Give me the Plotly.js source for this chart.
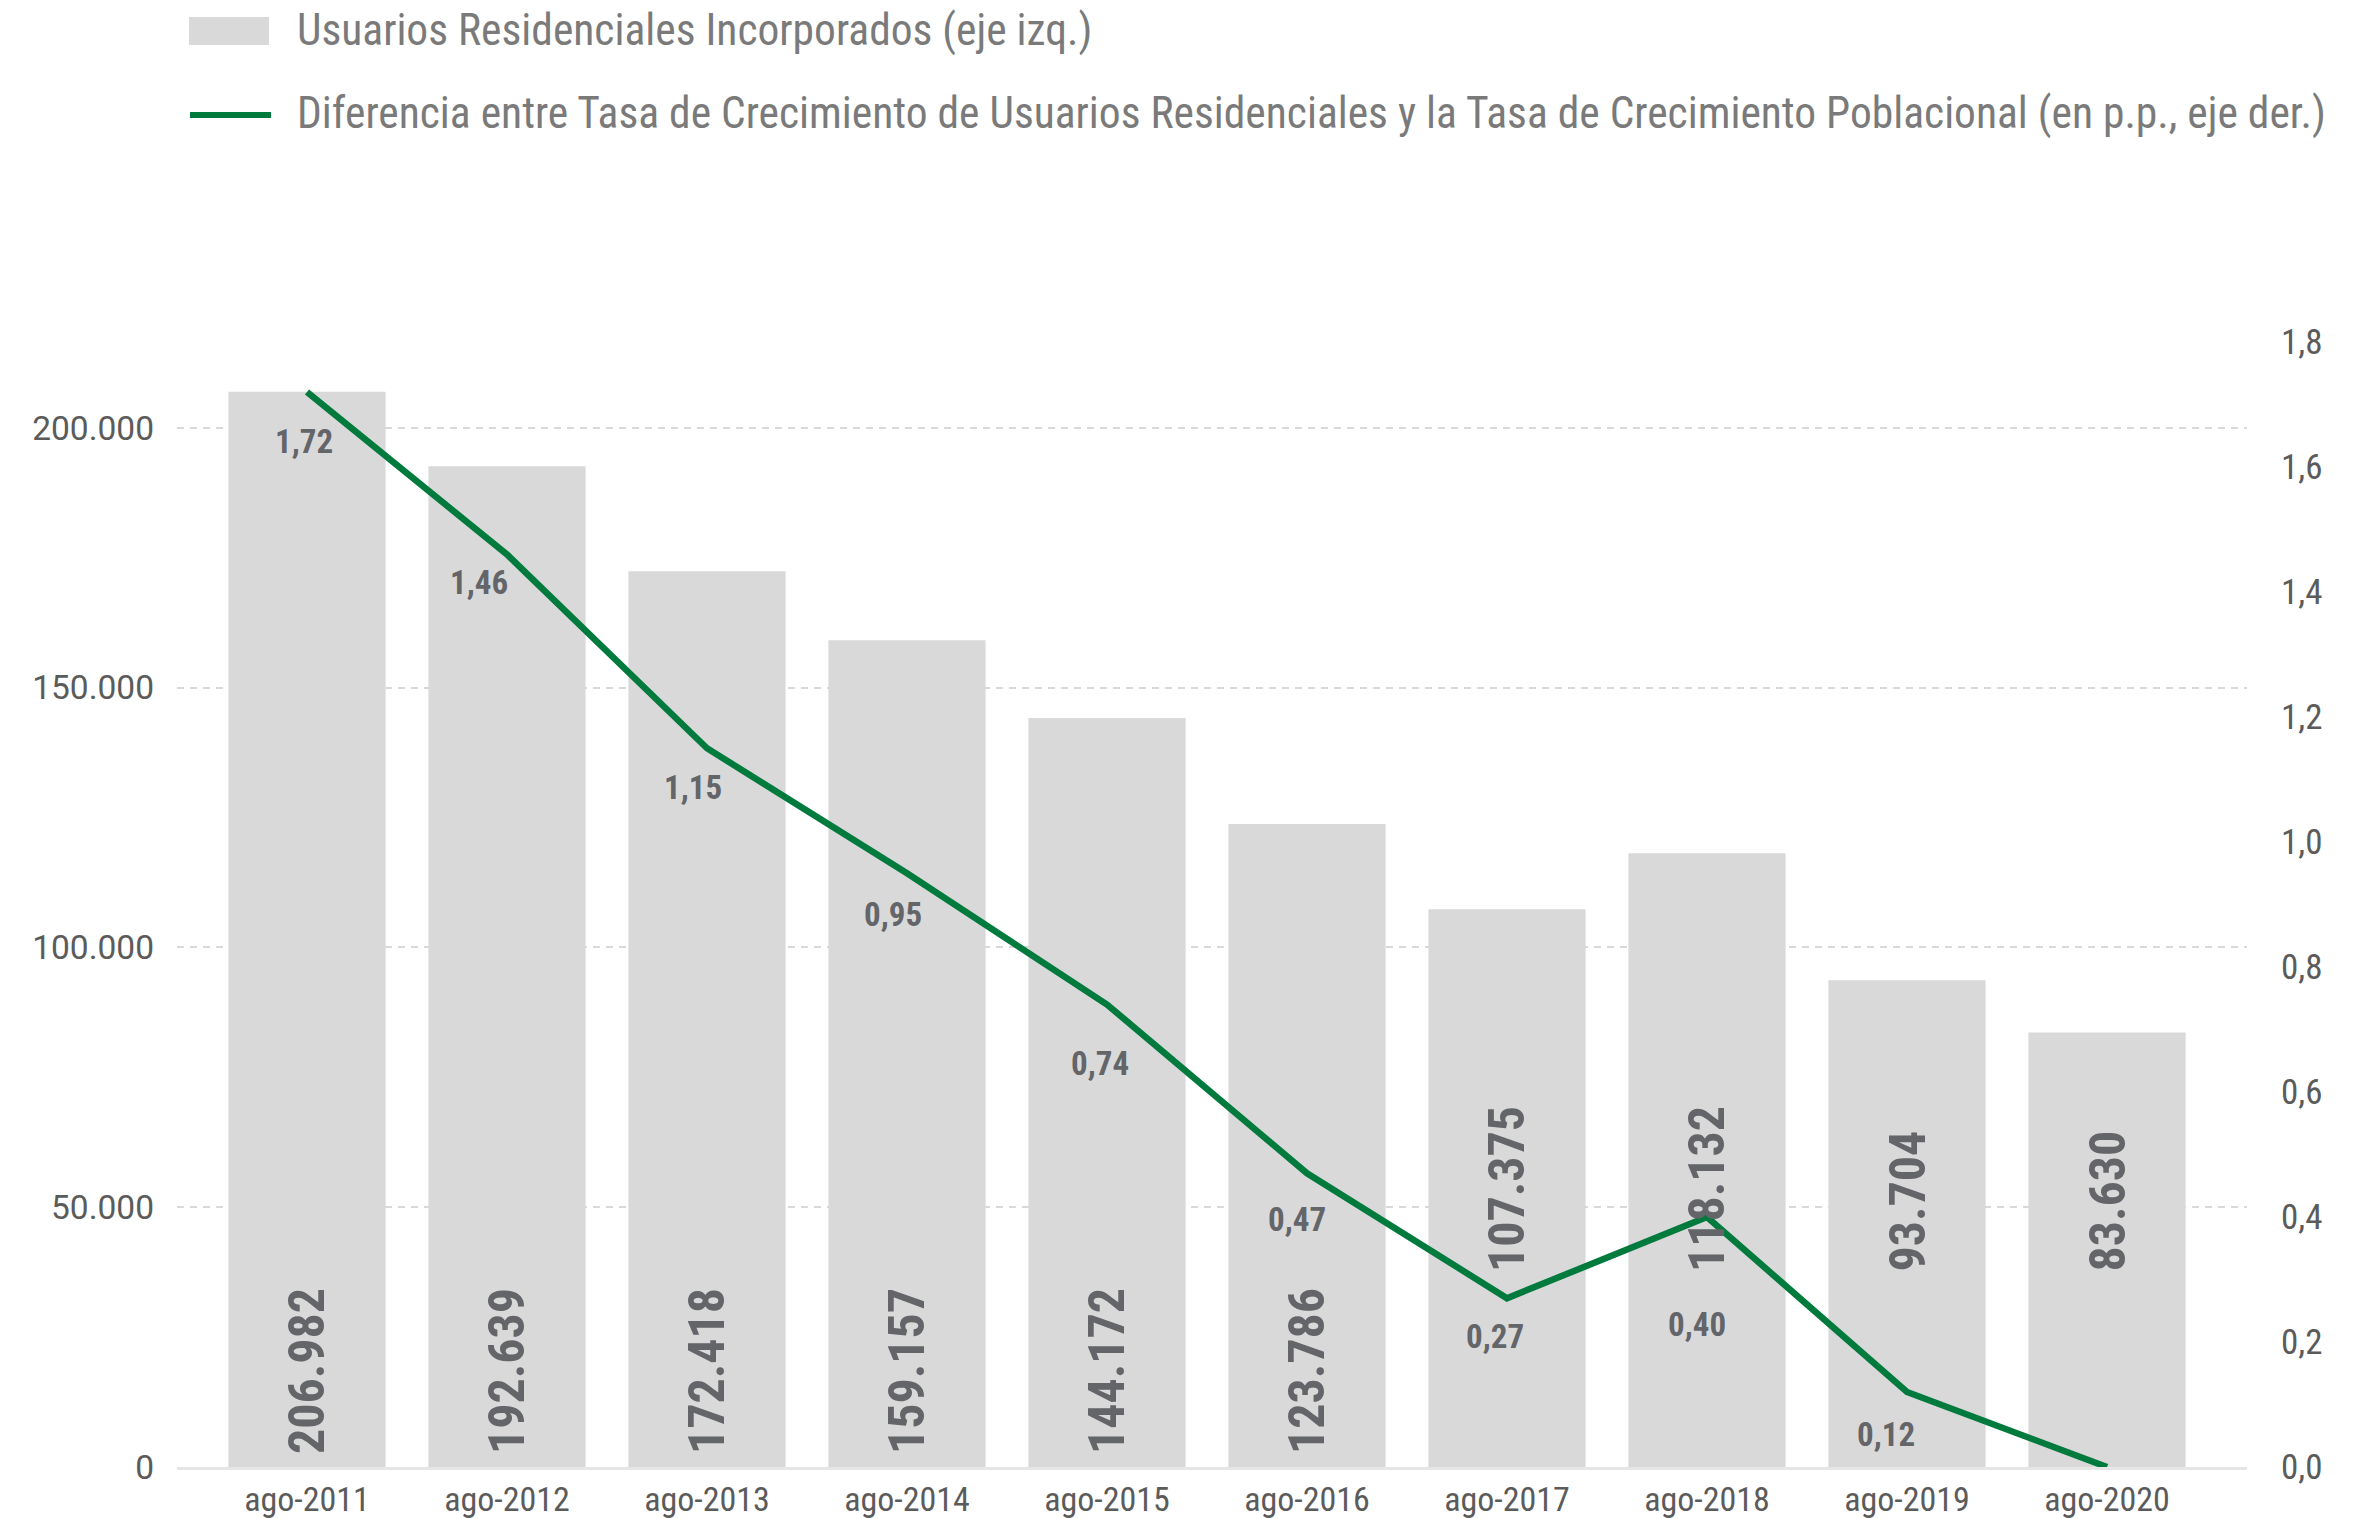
<!DOCTYPE html>
<html>
<head>
<meta charset="utf-8">
<script src="https://cdn.plot.ly/plotly-3.0.1.min.js"></script>
<style>
  html, body { margin: 0; padding: 0; background: #ffffff; }
  #chart { width: 2372px; height: 1519px; }
</style>
</head>
<body>
<div id="chart"></div>
<script>
// ---------------- DATA ----------------
const categories = ["ago-2011", "ago-2012", "ago-2013", "ago-2014", "ago-2015",
                    "ago-2016", "ago-2017", "ago-2018", "ago-2019", "ago-2020"];
const usuariosIncorporados = [206982, 192639, 172418, 159157, 144172,
                              123786, 107375, 118132, 93704, 83630];
const diferenciaTasas = [1.72, 1.46, 1.15, 0.95, 0.74, 0.47, 0.27, 0.40, 0.12, 0.00];
const leftTickVals = [0, 50000, 100000, 150000, 200000];
const rightTickVals = [0, 0.2, 0.4, 0.6, 0.8, 1.0, 1.2, 1.4, 1.6, 1.8];
const barName = "Usuarios Residenciales Incorporados (eje izq.)";
const lineName = "Diferencia entre Tasa de Crecimiento de Usuarios Residenciales y la Tasa de Crecimiento Poblacional (en p.p., eje der.)";

// ---------------- STYLE / LAYOUT ----------------
const W = 2372, H = 1519;
const M = { l: 177, r: 125, t: 342, b: 52 };
const plotW = W - M.l - M.r, plotH = H - M.t - M.b;
const px2x = X => (X - M.l) / plotW;
const px2y = Y => (H - M.b - Y) / plotH;

const condensed = "'Roboto Condensed', 'Liberation Sans Narrow', 'Arial Narrow', Roboto, sans-serif";
const regular = "Roboto, 'Liberation Sans', sans-serif";
const green = "#007a3d";
const barGray = "#d9d9d9";
const tickGray = "#5b5b5b";
const labelGray = "#636569";
const legendGray = "#7a7a7a";

const fmtThousands = v => String(v).replace(/\B(?=(\d{3})+(?!\d))/g, ".");
const fmtDec = v => v.toFixed(2).replace(".", ",");

// vertical lift (px) of the rotated bar labels above the baseline
const barLabelLift = [11, 11, 11, 11, 11, 11, 193, 193, 193, 193];
// label offsets (px) relative to each line point: [dx, dy below]
const lineLabelOffset = [[-3, 49], [-28, 28], [-14, 39], [-14, 41], [-7, 59],
                         [-10, 46], [-12, 38], [-10, 107], [-21, 42], [0, 0]];

const traces = [
  {
    type: "bar",
    name: barName,
    x: categories,
    y: usuariosIncorporados,
    marker: { color: barGray },
    hoverinfo: "x+y",
    showlegend: false
  },
  {
    type: "scatter",
    mode: "lines",
    name: lineName,
    x: categories,
    y: diferenciaTasas,
    yaxis: "y2",
    line: { color: green, width: 6.5 },
    hoverinfo: "x+y",
    showlegend: false
  }
];

const annotations = [];
categories.forEach((c, i) => {
  annotations.push({
    x: c, y: 0, xref: "x", yref: "y",
    text: fmtThousands(usuariosIncorporados[i]),
    textangle: -90,
    showarrow: false,
    xanchor: "center", yanchor: "bottom",
    yshift: barLabelLift[i],
    font: { family: condensed, size: 50, color: labelGray, weight: "bold" }
  });
  if (diferenciaTasas[i] > 0) {
    annotations.push({
      x: c, y: diferenciaTasas[i], xref: "x", yref: "y2",
      text: fmtDec(diferenciaTasas[i]),
      showarrow: false,
      xanchor: "center", yanchor: "middle",
      xshift: lineLabelOffset[i][0], yshift: -lineLabelOffset[i][1],
      font: { family: condensed, size: 33, color: labelGray, weight: "bold" }
    });
  }
});

// custom legend text
annotations.push({
  xref: "paper", yref: "paper", x: px2x(295), y: px2y(31),
  xanchor: "left", yanchor: "middle", showarrow: false,
  text: barName, font: { family: condensed, size: 43.5, color: legendGray }
});
annotations.push({
  xref: "paper", yref: "paper", x: px2x(295), y: px2y(114),
  xanchor: "left", yanchor: "middle", showarrow: false,
  text: lineName, font: { family: condensed, size: 43.5, color: legendGray }
});

const shapes = [
  { type: "rect", xref: "paper", yref: "paper",
    x0: px2x(189), x1: px2x(269), y0: px2y(45), y1: px2y(17),
    fillcolor: barGray, line: { width: 0 } },
  { type: "line", xref: "paper", yref: "paper",
    x0: px2x(190), x1: px2x(271), y0: px2y(115), y1: px2y(115),
    line: { color: green, width: 6 } }
];

const layout = {
  width: W, height: H,
  autosize: false,
  margin: { l: M.l, r: M.r, t: M.t, b: M.b, pad: 0 },
  paper_bgcolor: "#ffffff",
  plot_bgcolor: "#ffffff",
  separators: ",.",
  showlegend: false,
  bargap: 0.214,
  font: { family: regular, color: tickGray },
  xaxis: {
    type: "category",
    range: [-0.65, 9.7],
    showgrid: false,
    zeroline: false,
    showline: true,
    linecolor: "#e6e6e6",
    linewidth: 3,
    ticks: "",
    tickfont: { family: condensed, size: 34, color: tickGray },
    fixedrange: true
  },
  yaxis: {
    range: [0, 216550],
    tickvals: leftTickVals,
    tickformat: ",d",
    showgrid: true,
    gridcolor: "#d9d9d9",
    gridwidth: 2,
    griddash: "7px,6px",
    zeroline: false,
    showline: false,
    ticks: "",
    ticklabelstandoff: 22,
    tickfont: { family: regular, size: 33.5, color: tickGray },
    fixedrange: true
  },
  yaxis2: {
    overlaying: "y",
    side: "right",
    range: [0, 1.8],
    tickvals: rightTickVals,
    tickformat: ".1f",
    showgrid: false,
    zeroline: false,
    showline: false,
    ticks: "",
    ticklabelstandoff: 33,
    tickfont: { family: condensed, size: 35, color: tickGray },
    fixedrange: true
  },
  annotations: annotations,
  shapes: shapes
};

Plotly.newPlot("chart", traces, layout, { displayModeBar: false, staticPlot: true });
</script>
</body>
</html>
